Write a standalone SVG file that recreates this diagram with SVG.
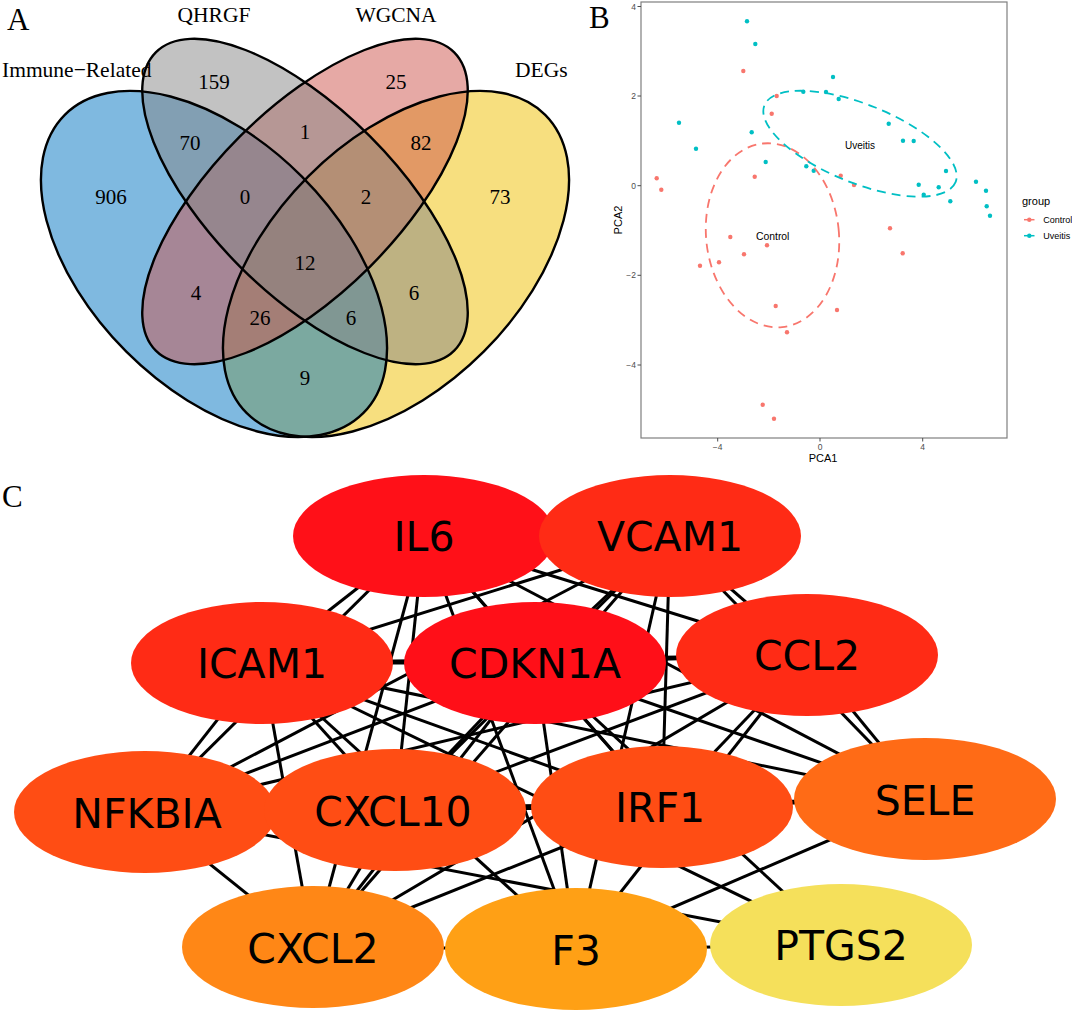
<svg xmlns="http://www.w3.org/2000/svg" width="1072" height="1013" viewBox="0 0 1072 1013">
<style>
.panel{font-family:"Liberation Serif","Times New Roman",serif;font-size:31px;fill:#000}
.vnum{font-family:"Liberation Serif","Times New Roman",serif;font-size:21px;fill:#000;text-anchor:middle}
.vlab{font-family:"Liberation Serif","Times New Roman",serif;font-size:21.5px;fill:#000}
.vout{fill:none;stroke:#000;stroke-width:2.4}
.tick{font-family:"Liberation Sans",Arial,sans-serif;font-size:8.5px;fill:#4D4D4D}
.axt{font-family:"Liberation Sans",Arial,sans-serif;font-size:11px;fill:#000}
.leg{font-family:"Liberation Sans",Arial,sans-serif;font-size:9px;fill:#000}
.ctl{fill:#F8766D}
.uve{fill:#00BFC4}
.edges line{stroke:#000;stroke-width:3}
.node text{font-family:"DejaVu Sans",Verdana,sans-serif;font-size:41px;fill:#000;text-anchor:middle}
</style>

<!-- Panel labels -->
<text class="panel" x="7" y="30">A</text>
<text class="panel" x="589" y="28">B</text>
<text class="panel" x="2" y="507">C</text>

<!-- Panel A: Venn -->
<g id="venn">
  <g fill-opacity="0.5">
    <ellipse cx="396" cy="264" rx="211" ry="124" transform="rotate(-45 396 264)" fill="#EFC000"/>
    <ellipse cx="214" cy="264" rx="211" ry="124" transform="rotate(45 214 264)" fill="#0073C2"/>
    <ellipse cx="305" cy="201.5" rx="211" ry="92" transform="rotate(-45 305 201.5)" fill="#CD534C"/>
    <ellipse cx="305" cy="201.5" rx="211" ry="92" transform="rotate(45 305 201.5)" fill="#868686"/>
  </g>
  <ellipse class="vout" cx="396" cy="264" rx="211" ry="124" transform="rotate(-45 396 264)"/>
  <ellipse class="vout" cx="214" cy="264" rx="211" ry="124" transform="rotate(45 214 264)"/>
  <ellipse class="vout" cx="305" cy="201.5" rx="211" ry="92" transform="rotate(-45 305 201.5)"/>
  <ellipse class="vout" cx="305" cy="201.5" rx="211" ry="92" transform="rotate(45 305 201.5)"/>
  <text class="vlab" x="2" y="77">Immune−Related</text>
  <text class="vlab" x="214" y="22" text-anchor="middle">QHRGF</text>
  <text class="vlab" x="396" y="22" text-anchor="middle">WGCNA</text>
  <text class="vlab" x="515" y="77">DEGs</text>
  <text class="vnum" x="111" y="204">906</text>
  <text class="vnum" x="214" y="89">159</text>
  <text class="vnum" x="396" y="89">25</text>
  <text class="vnum" x="500" y="204">73</text>
  <text class="vnum" x="190" y="150">70</text>
  <text class="vnum" x="305" y="139">1</text>
  <text class="vnum" x="421" y="150">82</text>
  <text class="vnum" x="245" y="204">0</text>
  <text class="vnum" x="366" y="204">2</text>
  <text class="vnum" x="305" y="270">12</text>
  <text class="vnum" x="196" y="300">4</text>
  <text class="vnum" x="414" y="300">6</text>
  <text class="vnum" x="260" y="325">26</text>
  <text class="vnum" x="351" y="325">6</text>
  <text class="vnum" x="305" y="385">9</text>
</g>

<!-- Panel B: PCA -->
<g id="pca">
  <rect x="641" y="2" width="366" height="436" fill="#FFFFFF" stroke="#7F7F7F" stroke-width="1.2"/>
  <g stroke="#4D4D4D" stroke-width="1">
    <line x1="637.5" y1="6.5" x2="641" y2="6.5"/>
    <line x1="637.5" y1="96" x2="641" y2="96"/>
    <line x1="637.5" y1="185.7" x2="641" y2="185.7"/>
    <line x1="637.5" y1="275.3" x2="641" y2="275.3"/>
    <line x1="637.5" y1="365" x2="641" y2="365"/>
    <line x1="717.7" y1="438" x2="717.7" y2="441.5"/>
    <line x1="820" y1="438" x2="820" y2="441.5"/>
    <line x1="922.7" y1="438" x2="922.7" y2="441.5"/>
  </g>
  <g class="tick" text-anchor="end">
    <text x="636" y="9.5">4</text>
    <text x="636" y="99">2</text>
    <text x="636" y="188.7">0</text>
    <text x="636" y="278.3">−2</text>
    <text x="636" y="368">−4</text>
  </g>
  <g class="tick" text-anchor="middle">
    <text x="717.7" y="449.5">−4</text>
    <text x="820" y="449.5">0</text>
    <text x="922.7" y="449.5">4</text>
  </g>
  <text class="axt" x="823" y="462" text-anchor="middle">PCA1</text>
  <text class="axt" x="622" y="220" text-anchor="middle" transform="rotate(-90 622 220)">PCA2</text>
  <!-- points -->
  <g class="ctl">
    <circle cx="743.3" cy="71" r="2.2"/>
    <circle cx="771.7" cy="113.7" r="2.2"/>
    <circle cx="776.7" cy="96" r="2.2"/>
    <circle cx="656.7" cy="178.3" r="2.2"/>
    <circle cx="661.3" cy="189.7" r="2.2"/>
    <circle cx="754.7" cy="176.7" r="2.2"/>
    <circle cx="840.7" cy="175.7" r="2.2"/>
    <circle cx="854" cy="185" r="2.2"/>
    <circle cx="890" cy="228.3" r="2.2"/>
    <circle cx="902.7" cy="253.3" r="2.2"/>
    <circle cx="730.3" cy="237" r="2.2"/>
    <circle cx="767" cy="245.3" r="2.2"/>
    <circle cx="744" cy="254.3" r="2.2"/>
    <circle cx="700" cy="265.7" r="2.2"/>
    <circle cx="719" cy="262.3" r="2.2"/>
    <circle cx="775.7" cy="306" r="2.2"/>
    <circle cx="837" cy="310" r="2.2"/>
    <circle cx="787" cy="332.3" r="2.2"/>
    <circle cx="762.7" cy="404.7" r="2.2"/>
    <circle cx="774" cy="418.7" r="2.2"/>
  </g>
  <g class="uve">
    <circle cx="747" cy="21.3" r="2.2"/>
    <circle cx="755.3" cy="44" r="2.2"/>
    <circle cx="833" cy="77" r="2.2"/>
    <circle cx="679" cy="122.7" r="2.2"/>
    <circle cx="696" cy="148.7" r="2.2"/>
    <circle cx="751.7" cy="132.3" r="2.2"/>
    <circle cx="765.7" cy="162" r="2.2"/>
    <circle cx="803.3" cy="91.7" r="2.2"/>
    <circle cx="826" cy="92" r="2.2"/>
    <circle cx="838.7" cy="99" r="2.2"/>
    <circle cx="888.7" cy="123.7" r="2.2"/>
    <circle cx="903" cy="140.7" r="2.2"/>
    <circle cx="913.7" cy="141" r="2.2"/>
    <circle cx="806.3" cy="166.3" r="2.2"/>
    <circle cx="813.7" cy="170.7" r="2.2"/>
    <circle cx="946" cy="171" r="2.2"/>
    <circle cx="918.7" cy="184.7" r="2.2"/>
    <circle cx="923.7" cy="194.7" r="2.2"/>
    <circle cx="938.7" cy="187.3" r="2.2"/>
    <circle cx="950.3" cy="201.3" r="2.2"/>
    <circle cx="976" cy="181.7" r="2.2"/>
    <circle cx="986" cy="190.7" r="2.2"/>
    <circle cx="986.7" cy="206.3" r="2.2"/>
    <circle cx="990" cy="215.7" r="2.2"/>
  </g>
  <!-- confidence ellipses -->
  <ellipse cx="772.5" cy="235.3" rx="66.4" ry="92.3" transform="rotate(-6 772.5 235.3)" fill="none" stroke="#F8766D" stroke-width="1.8" stroke-dasharray="9 6"/>
  <ellipse cx="860" cy="143.7" rx="103" ry="39.3" transform="rotate(21.9 860 143.7)" fill="none" stroke="#00BFC4" stroke-width="1.8" stroke-dasharray="9 6"/>
  <text x="860" y="149" font-family="Liberation Sans, Arial, sans-serif" font-size="10" text-anchor="middle">Uveitis</text>
  <text x="772.7" y="240" font-family="Liberation Sans, Arial, sans-serif" font-size="10.4" text-anchor="middle">Control</text>
  <!-- legend -->
  <text class="axt" x="1022" y="204.5">group</text>
  <line x1="1024" y1="219.7" x2="1034.5" y2="219.7" stroke="#F8766D" stroke-width="1.5"/>
  <circle class="ctl" cx="1029.3" cy="219.7" r="2.2"/>
  <text class="leg" x="1043.3" y="223">Control</text>
  <line x1="1024" y1="235.7" x2="1034.5" y2="235.7" stroke="#00BFC4" stroke-width="1.5"/>
  <circle class="uve" cx="1029.3" cy="235.7" r="2.2"/>
  <text class="leg" x="1043.3" y="239">Uveitis</text>
</g>

<!-- Panel C: network -->
<g id="connectors" class="edges">
  <line x1="424" y1="536" x2="670" y2="536"/>
  <line x1="424" y1="536" x2="262" y2="663"/>
  <line x1="424" y1="536" x2="535" y2="663"/>
  <line x1="424" y1="536" x2="807" y2="655"/>
  <line x1="424" y1="536" x2="145" y2="812"/>
  <line x1="424" y1="536" x2="395" y2="810"/>
  <line x1="424" y1="536" x2="662" y2="807"/>
  <line x1="424" y1="536" x2="925" y2="799"/>
  <line x1="670" y1="536" x2="262" y2="663"/>
  <line x1="670" y1="536" x2="535" y2="663"/>
  <line x1="670" y1="536" x2="807" y2="655"/>
  <line x1="670" y1="536" x2="145" y2="812"/>
  <line x1="670" y1="536" x2="395" y2="810"/>
  <line x1="670" y1="536" x2="662" y2="807"/>
  <line x1="670" y1="536" x2="925" y2="799"/>
  <line x1="262" y1="663" x2="535" y2="663"/>
  <line x1="262" y1="663" x2="807" y2="655"/>
  <line x1="262" y1="663" x2="145" y2="812"/>
  <line x1="262" y1="663" x2="395" y2="810"/>
  <line x1="262" y1="663" x2="662" y2="807"/>
  <line x1="262" y1="663" x2="925" y2="799"/>
  <line x1="535" y1="663" x2="807" y2="655"/>
  <line x1="535" y1="663" x2="145" y2="812"/>
  <line x1="535" y1="663" x2="395" y2="810"/>
  <line x1="535" y1="663" x2="662" y2="807"/>
  <line x1="535" y1="663" x2="925" y2="799"/>
  <line x1="807" y1="655" x2="145" y2="812"/>
  <line x1="807" y1="655" x2="395" y2="810"/>
  <line x1="807" y1="655" x2="662" y2="807"/>
  <line x1="807" y1="655" x2="925" y2="799"/>
  <line x1="145" y1="812" x2="395" y2="810"/>
  <line x1="145" y1="812" x2="662" y2="807"/>
  <line x1="145" y1="812" x2="925" y2="799"/>
  <line x1="395" y1="810" x2="662" y2="807"/>
  <line x1="395" y1="810" x2="925" y2="799"/>
  <line x1="662" y1="807" x2="925" y2="799"/>
  <line x1="145" y1="812" x2="313" y2="947"/>
  <line x1="262" y1="663" x2="313" y2="947"/>
  <line x1="424" y1="536" x2="313" y2="947"/>
  <line x1="395" y1="810" x2="313" y2="947"/>
  <line x1="535" y1="663" x2="313" y2="947"/>
  <line x1="670" y1="536" x2="313" y2="947"/>
  <line x1="807" y1="655" x2="313" y2="947"/>
  <line x1="662" y1="807" x2="313" y2="947"/>
  <line x1="576" y1="949" x2="313" y2="947"/>
  <line x1="262" y1="663" x2="576" y2="949"/>
  <line x1="424" y1="536" x2="576" y2="949"/>
  <line x1="535" y1="663" x2="576" y2="949"/>
  <line x1="670" y1="536" x2="576" y2="949"/>
  <line x1="807" y1="655" x2="576" y2="949"/>
  <line x1="925" y1="799" x2="576" y2="949"/>
  <line x1="841" y1="945" x2="576" y2="949"/>
  <line x1="145" y1="812" x2="841" y2="945"/>
  <line x1="262" y1="663" x2="841" y2="945"/>
  <line x1="535" y1="663" x2="841" y2="945"/>
</g>

<g id="node-IL6" class="node"><ellipse cx="424" cy="536" rx="131" ry="61" fill="#FF1018"/><text x="424" y="551">IL6</text></g>
<g id="node-VCAM1" class="node"><ellipse cx="670" cy="536" rx="131" ry="61" fill="#FF2B15"/><text x="670" y="551">VCAM1</text></g>
<g id="node-ICAM1" class="node"><ellipse cx="262" cy="663" rx="131" ry="61" fill="#FF2B15"/><text x="262" y="678">ICAM1</text></g>
<g id="node-CDKN1A" class="node"><ellipse cx="535" cy="663" rx="131" ry="61" fill="#FF0F18"/><text x="535" y="678">CDKN1A</text></g>
<g id="node-CCL2" class="node"><ellipse cx="807" cy="655" rx="131" ry="61" fill="#FF2B15"/><text x="807" y="670">CCL2</text></g>
<g id="node-NFKBIA" class="node"><ellipse cx="145" cy="812" rx="131" ry="61" fill="#FF4D14"/><text x="147" y="828">NFKBIA</text></g>
<g id="node-CXCL10" class="node"><ellipse cx="395" cy="810" rx="131" ry="61" fill="#FF4D14"/><text x="393" y="826">CXCL10</text></g>
<g id="node-IRF1" class="node"><ellipse cx="662" cy="807" rx="131" ry="61" fill="#FF4D14"/><text x="660" y="822">IRF1</text></g>
<g id="node-SELE" class="node"><ellipse cx="925" cy="799" rx="131" ry="61" fill="#FF6B16"/><text x="925" y="815">SELE</text></g>
<g id="node-CXCL2" class="node"><ellipse cx="313" cy="947" rx="131" ry="61" fill="#FF8716"/><text x="313" y="963">CXCL2</text></g>
<g id="node-F3" class="node"><ellipse cx="576" cy="949" rx="131" ry="61" fill="#FFA015"/><text x="576" y="965">F3</text></g>
<g id="node-PTGS2" class="node"><ellipse cx="841" cy="945" rx="131" ry="61" fill="#F5E05B"/><text x="841" y="960">PTGS2</text></g>
</svg>
